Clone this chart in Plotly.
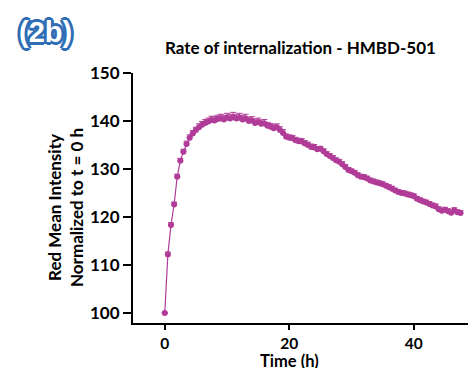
import plotly.graph_objects as go

time_h = [0.0, 0.5, 1.0, 1.5, 2.0, 2.5, 3.0, 3.5, 4.0, 4.5, 5.0, 5.5, 6.0, 6.5, 7.0, 7.5,
          8.0, 8.5, 9.0, 9.5, 10.0, 10.5, 11.0, 11.5, 12.0, 12.5, 13.0, 13.5, 14.0, 14.5,
          15.0, 15.5, 16.0, 16.5, 17.0, 17.5, 18.0, 18.5, 19.0, 19.5, 20.0, 20.5, 21.0,
          21.5, 22.0, 22.5, 23.0, 23.5, 24.0, 24.5, 25.0, 25.5, 26.0, 26.5, 27.0, 27.5,
          28.0, 28.5, 29.0, 29.5, 30.0, 30.5, 31.0, 31.5, 32.0, 32.5, 33.0, 33.5, 34.0,
          34.5, 35.0, 35.5, 36.0, 36.5, 37.0, 37.5, 38.0, 38.5, 39.0, 39.5, 40.0, 40.5,
          41.0, 41.5, 42.0, 42.5, 43.0, 43.5, 44.0, 44.5, 45.0, 45.5, 46.0, 46.5, 47.0, 47.5]

intensity = [100.0, 112.2, 118.3, 122.6, 128.4, 131.7, 133.6, 135.2, 136.5, 137.4, 138.1,
             138.7, 139.2, 139.6, 139.9, 140.2, 140.1, 140.4, 140.5, 140.3, 140.7, 140.5,
             140.8, 140.5, 140.7, 140.3, 140.5, 140.0, 140.1, 139.6, 139.8, 139.4, 139.5,
             139.0, 138.8, 138.5, 138.7, 138.1, 137.5, 136.7, 136.5, 136.4, 136.0, 135.8,
             135.7, 135.3, 135.0, 134.6, 134.5, 134.1, 134.2, 133.7, 133.1, 132.7, 132.3,
             131.8, 131.5, 131.0, 130.4, 129.8, 129.5, 129.2, 128.7, 128.4, 128.3, 128.0,
             127.6, 127.4, 127.2, 127.0, 126.8, 126.5, 126.2, 125.9, 125.5, 125.2, 125.0,
             124.9, 124.7, 124.5, 124.3, 123.8, 123.5, 123.2, 123.0, 122.7, 122.4, 122.2,
             121.6, 121.3, 121.5, 121.2, 120.9, 121.4, 121.0, 120.8]

sem = [0.0, 0.5, 0.5, 0.5, 0.5, 0.5, 0.5, 0.6, 0.6, 0.6, 0.6, 0.7, 0.7, 0.7, 0.7, 0.8,
       0.8, 0.8, 0.9, 0.9, 0.9, 0.9, 1.0, 0.9, 0.9, 0.9, 0.9, 0.8, 0.8, 0.8, 0.8, 0.8,
       0.8, 0.7, 0.7, 0.7, 0.7, 0.7, 0.7, 0.6, 0.6, 0.6, 0.6, 0.6, 0.6, 0.6, 0.6, 0.6,
       0.6, 0.5, 0.5, 0.5, 0.5, 0.5, 0.5, 0.5, 0.5, 0.5, 0.5, 0.5, 0.5, 0.5, 0.5, 0.5,
       0.5, 0.5, 0.5, 0.5, 0.5, 0.5, 0.5, 0.5, 0.5, 0.5, 0.5, 0.5, 0.5, 0.5, 0.5, 0.5,
       0.5, 0.5, 0.5, 0.5, 0.5, 0.5, 0.5, 0.5, 0.5, 0.5, 0.5, 0.5, 0.5, 0.5, 0.5, 0.5]

x_ticks = [0, 20, 40]
y_ticks = [100, 110, 120, 130, 140, 150]

color = "#B03C98"
blue = "#2F6DB5"
font_family = "Lato, 'Open Sans', sans-serif"

fig = go.Figure()
fig.add_trace(go.Scatter(
    x=time_h, y=intensity, mode="lines+markers",
    line=dict(color=color, width=1.2),
    marker=dict(color=color, size=6),
    error_y=dict(type="data", array=sem, arrayminus=[0] * len(sem), color=color,
                 thickness=1, width=3),
    showlegend=False,
))

outline = ", ".join(f"{dx}px {dy}px 0 {blue}" for dx, dy in
                    [(2, 0), (-2, 0), (0, 2), (0, -2), (2, 2), (-2, -2), (2, -2), (-2, 2),
                     (3, 0), (-3, 0), (0, 3), (0, -3)])

fig.update_layout(
    width=468, height=369,
    margin=dict(l=133, r=0, t=73, b=46, autoexpand=False),
    plot_bgcolor="white", paper_bgcolor="white",
    font=dict(family=font_family, color="black"),
    xaxis=dict(
        range=[-5.1, 48.7], tickvals=x_ticks, ticktext=[str(v) for v in x_ticks],
        showgrid=False, zeroline=False, showline=True, linecolor="black", linewidth=2,
        ticks="outside", ticklen=5, tickwidth=2, tickcolor="black", automargin=False,
        tickfont=dict(size=15.5, family=font_family, weight="bold"),
    ),
    yaxis=dict(
        range=[97.9, 150], tickvals=y_ticks, ticktext=[str(v) for v in y_ticks],
        showgrid=False, zeroline=False, showline=True, linecolor="black", linewidth=2,
        ticks="outside", ticklen=8, tickwidth=2, tickcolor="black", automargin=False,
        tickfont=dict(size=17, family=font_family, weight="bold"),
    ),
    annotations=[
        dict(text="<b>Rate of internalization - HMBD-501</b>", xref="paper", yref="paper",
             x=0.5, y=1.0, yshift=26, xanchor="center", yanchor="middle", showarrow=False,
             font=dict(size=17, color="black")),
        dict(text="<b>Time (h)</b>", xref="x", yref="paper",
             x=20, y=0.0, yshift=-37, xanchor="center", yanchor="middle", showarrow=False,
             height=15, font=dict(size=16.5, color="black")),
        dict(text="<b>Red Mean Intensity<br>Normalized to t = 0 h</b>", xref="paper",
             yref="paper", x=0.0, y=0.5, xshift=-68, yshift=-10, xanchor="center",
             yanchor="middle", textangle=-90, showarrow=False,
             font=dict(size=17, color="black")),
        dict(text="<b>(2b)</b>", xref="paper", yref="paper",
             x=0.0, y=1.0, xshift=-88, yshift=41, xanchor="center", yanchor="middle",
             showarrow=False,
             font=dict(size=29, color="white", family="Arial, 'Liberation Sans', sans-serif",
                       shadow=outline)),
    ],
)

fig.write_html("out.html", config={"displayModeBar": False},
               post_script="document.body.style.margin='0';")
